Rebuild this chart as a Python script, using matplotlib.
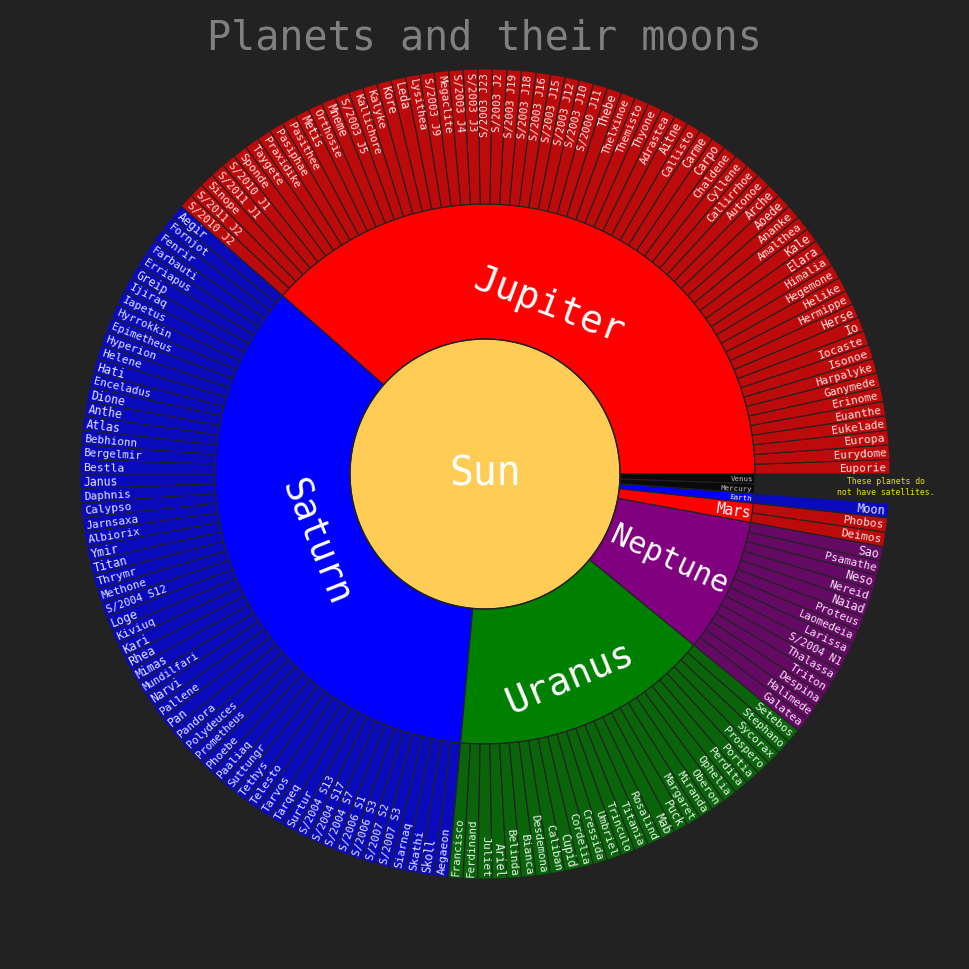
import numpy as np
import matplotlib
matplotlib.use("Agg")
import matplotlib.pyplot as plt
from matplotlib.colors import to_rgb

# ---------------- data ----------------
title = "Planets and their moons"
star = "Sun"
planets = ["Jupiter", "Saturn", "Uranus", "Neptune", "Mars", "Earth", "Mercury", "Venus"]
planet_colors = ["#ff0000", "#0000ff", "#008000", "#800080", "#ff0000", "#0000ff", "#000000", "#000000"]

jupiter_moons = ["Euporie", "Eurydome", "Europa", "Eukelade", "Euanthe", "Erinome", "Ganymede",
                 "Harpalyke", "Isonoe", "Iocaste", "Io", "Herse", "Hermippe", "Helike", "Hegemone",
                 "Himalia", "Elara", "Kale", "Amalthea", "Ananke", "Aoede", "Arche", "Autonoe",
                 "Callirrhoe", "Cyllene", "Chaldene", "Carpo", "Carme", "Callisto", "Aitne",
                 "Adrastea", "Thyone", "Themisto", "Thelxinoe", "Thebe", "S/2000 J11", "S/2003 J10",
                 "S/2003 J12", "S/2003 J15", "S/2003 J16", "S/2003 J18", "S/2003 J19", "S/2003 J2",
                 "S/2003 J23", "S/2003 J3", "S/2003 J4", "Megaclite", "S/2003 J9", "Lysithea", "Leda",
                 "Kore", "Kalyke", "Kallichore", "S/2003 J5", "Mneme", "Orthosie", "Metis", "Pasithee",
                 "Pasiphae", "Praxidike", "Taygete", "Sponde", "S/2010 J1", "S/2011 J1", "Sinope",
                 "S/2011 J2", "S/2010 J2"]
saturn_moons = ["Aegir", "Fornjot", "Fenrir", "Farbauti", "Erriapus", "Greip", "Ijiraq", "Iapetus",
                "Hyrrokkin", "Epimetheus", "Hyperion", "Helene", "Hati", "Enceladus", "Dione", "Anthe",
                "Atlas", "Bebhionn", "Bergelmir", "Bestla", "Janus", "Daphnis", "Calypso", "Jarnsaxa",
                "Albiorix", "Ymir", "Titan", "Thrymr", "Methone", "S/2004 S12", "Loge", "Kiviuq",
                "Kari", "Rhea", "Mimas", "Mundilfari", "Narvi", "Pallene", "Pan", "Pandora",
                "Polydeuces", "Prometheus", "Phoebe", "Paaliaq", "Suttungr", "Tethys", "Telesto",
                "Tarvos", "Tarqeq", "Surtur", "S/2004 S13", "S/2004 S17", "S/2004 S7", "S/2006 S1",
                "S/2006 S3", "S/2007 S2", "S/2007 S3", "Siarnaq", "Skathi", "Skoll", "Aegaeon"]
uranus_moons = ["Francisco", "Ferdinand", "Juliet", "Ariel", "Belinda", "Bianca", "Desdemona",
                "Caliban", "Cupid", "Cordelia", "Cressida", "Umbriel", "Trinculo", "Titania",
                "Rosalind", "Mab", "Puck", "Margaret", "Miranda", "Oberon", "Ophelia", "Perdita",
                "Portia", "Prospero", "Sycorax", "Stephano", "Setebos"]
neptune_moons = ["Galatea", "Halimede", "Despina", "Triton", "Thalassa", "S/2004 N1", "Larissa",
                 "Laomedeia", "Proteus", "Naiad", "Nereid", "Neso", "Psamathe", "Sao"]
mars_moons = ["Deimos", "Phobos"]
earth_moons = ["Moon"]
mercury_moons = []
venus_moons = []
moons = [jupiter_moons, saturn_moons, uranus_moons, neptune_moons,
         mars_moons, earth_moons, mercury_moons, venus_moons]
note = "These planets do\nnot have satellites."

# ---------------- style ----------------
BG = "#222222"
SUN_COLOR = "#ffcc55"
LEAF_OPACITY = 0.7
FONT = "DejaVu Sans Mono"
R0, R1, R2 = 135, 270, 405
DPI = 100
PX2PT = 72.0 / DPI

mid_style = {
    "Jupiter": dict(mode="tangential", r=181, size=27),
    "Saturn": dict(mode="tangential", r=183, size=26.5),
    "Uranus": dict(mode="tangential", r=220, size=27),
    "Neptune": dict(mode="radial", r=203, size=21.5),
    "Mars": dict(mode="edge", size=10.5),
    "Earth": dict(mode="edge", size=5.3),
    "Mercury": dict(mode="edge", size=5.3),
    "Venus": dict(mode="edge", size=5.3),
}


def blend(c, a=LEAF_OPACITY, bg=BG):
    c = np.array(to_rgb(c)); b = np.array(to_rgb(bg))
    return tuple(a * c + (1 - a) * b)


def tint(c, w=0.9):
    c = np.array(to_rgb(c))
    return tuple(w * np.ones(3) + (1 - w) * c)


def norm_rot(deg):
    deg = deg % 360
    if deg > 180:
        deg -= 360
    if deg > 90.0001:
        deg -= 180
    elif deg < -90:
        deg += 180
    return deg


fig = plt.figure(figsize=(9.7, 9.7), dpi=DPI, facecolor=BG)
W = H = 970
cx, cy = 485, 475
ax = fig.add_axes([(cx - R2) / W, (H - cy - R2) / H, 2 * R2 / W, 2 * R2 / H], projection="polar")
ax.set_ylim(0, R2)
ax.set_facecolor(BG)
ax.grid(False)
ax.set_xticks([]); ax.set_yticks([])
ax.spines["polar"].set_visible(False)
ax.patch.set_alpha(0)

units = [max(len(m), 1) for m in moons]
total = sum(units)
dth = 2 * np.pi / total

# Sun
ax.bar(0, R0, width=2 * np.pi, bottom=0, color=SUN_COLOR, edgecolor="none", align="center")
tt = np.linspace(0, 2 * np.pi, 600)
ax.plot(tt, np.full_like(tt, R0), color=BG, lw=1.0)
ax.text(0, 0, star, ha="center", va="center", color="white", fontsize=28.5, family=FONT)

start = 0.0
for p, col, mlist, n in zip(planets, planet_colors, moons, units):
    leaf = len(mlist) == 0
    face = blend(col) if leaf else to_rgb(col)
    center = start + n * dth / 2
    ax.bar(center, R1 - R0, width=n * dth, bottom=R0, color=face, edgecolor=BG,
           linewidth=0.8, align="center")
    st = mid_style[p]
    a = np.degrees(center)
    tcol = "#c4c4c4" if leaf else "white"
    if st["mode"] == "tangential":
        ax.text(center, st["r"], p, rotation=norm_rot(a - 90), rotation_mode="anchor",
                ha="center", va="center", color=tcol, fontsize=st["size"], family=FONT)
    elif st["mode"] == "radial":
        ax.text(center, st["r"], p, rotation=norm_rot(a), rotation_mode="anchor",
                ha="center", va="center", color=tcol, fontsize=st["size"], family=FONT)
    else:
        ax.text(center, R1 - 2, p, rotation=norm_rot(a), rotation_mode="anchor",
                ha="right", va="center", color=tcol, fontsize=st["size"], family=FONT)

    mface = blend(col)
    mtext = tint(col)
    for j, name in enumerate(mlist):
        th = start + (j + 0.5) * dth
        ax.bar(th, R2 - R1, width=dth, bottom=R1, color=mface, edgecolor=BG,
               linewidth=0.8, align="center")
        k = 0.87
        R = R2 - 3
        fs_px = k * dth * R / (1 + k * dth * 0.602 * len(name))
        fs_px = min(fs_px, 12.8)
        a = np.degrees(th) % 360
        if a <= 90.0001 or a >= 270:
            rot = a if a <= 90.0001 else a - 360
            ha = "right"
        else:
            rot = a - 180
            ha = "left"
        ax.text(th, R, name, rotation=rot, rotation_mode="anchor", ha=ha, va="center",
                color=mtext, fontsize=fs_px * PX2PT, family=FONT)
    start += n * dth

fig.text(484.5 / W, 1 - 49 / H, title, ha="center", va="baseline", color="#808080",
         fontsize=28.8, family=FONT)
fig.text(886 / W, 1 - 487 / H, note, ha="center", va="center", color="#e6e600",
         fontsize=5.9, family=FONT, linespacing=1.25)

fig.savefig("out.png", dpi=DPI, facecolor=BG)
